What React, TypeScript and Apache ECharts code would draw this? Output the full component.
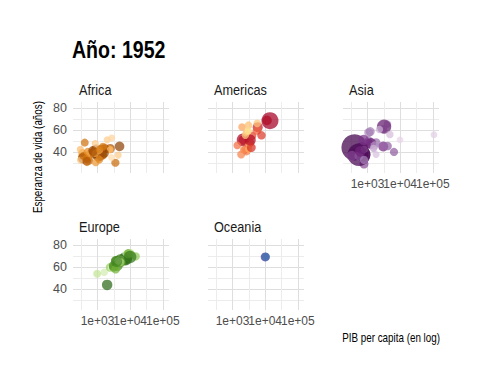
import React, { useEffect, useRef } from 'react';
import * as echarts from 'echarts';

// [country, gdpPercap (US$), lifeExp (years), population (millions)] — year 1952
type Row = [string, number, number, number];

const africa: Row[] = [
  ['Algeria', 2449.0, 43.08, 9.28], ['Angola', 3520.6, 30.02, 4.23], ['Benin', 1062.8, 38.22, 1.74],
  ['Botswana', 851.2, 47.62, 0.44], ['Burkina Faso', 543.3, 31.98, 4.47], ['Burundi', 339.3, 39.03, 2.45],
  ['Cameroon', 1172.7, 38.52, 5.01], ['Central African Republic', 1071.3, 35.46, 1.29], ['Chad', 1178.7, 38.09, 2.68],
  ['Comoros', 1103.0, 40.72, 0.15], ['Congo, Dem. Rep.', 780.5, 39.14, 14.1], ['Congo, Rep.', 2125.6, 42.11, 0.85],
  ["Cote d'Ivoire", 1388.6, 40.48, 2.98], ['Djibouti', 2669.5, 34.81, 0.06], ['Egypt', 1418.8, 41.89, 22.22],
  ['Equatorial Guinea', 375.6, 34.48, 0.22], ['Eritrea', 328.9, 35.93, 1.44], ['Ethiopia', 362.1, 34.08, 20.86],
  ['Gabon', 4293.5, 37.0, 0.42], ['Gambia', 485.2, 30.0, 0.28], ['Ghana', 911.3, 43.15, 5.58],
  ['Guinea', 510.2, 33.61, 2.66], ['Guinea-Bissau', 299.9, 32.5, 0.58], ['Kenya', 853.5, 42.27, 6.46],
  ['Lesotho', 298.8, 42.14, 0.75], ['Liberia', 575.6, 38.48, 0.86], ['Libya', 2387.5, 42.72, 1.02],
  ['Madagascar', 1443.0, 36.68, 4.76], ['Malawi', 369.2, 36.26, 2.92], ['Mali', 452.3, 33.69, 3.84],
  ['Mauritania', 743.1, 40.54, 1.02], ['Mauritius', 1968.0, 50.99, 0.52], ['Morocco', 1688.2, 42.87, 9.94],
  ['Mozambique', 468.5, 31.29, 6.45], ['Namibia', 2423.8, 41.73, 0.49], ['Niger', 761.9, 37.44, 3.38],
  ['Nigeria', 1077.3, 36.32, 33.12], ['Reunion', 2718.9, 52.72, 0.26], ['Rwanda', 493.3, 40.0, 2.53],
  ['Sao Tome and Principe', 879.6, 46.47, 0.06], ['Senegal', 1450.4, 37.28, 2.76], ['Sierra Leone', 879.8, 30.33, 2.14],
  ['Somalia', 1135.7, 32.98, 2.53], ['South Africa', 4725.3, 45.01, 14.26], ['Sudan', 1616.0, 38.64, 8.5],
  ['Swaziland', 1148.4, 41.41, 0.29], ['Tanzania', 716.7, 41.22, 8.32], ['Togo', 859.8, 38.6, 1.22],
  ['Tunisia', 1468.5, 44.6, 3.65], ['Uganda', 734.8, 39.98, 5.82], ['Zambia', 1147.4, 42.04, 2.67],
  ['Zimbabwe', 406.9, 48.45, 3.08],
];

const americas: Row[] = [
  ['Argentina', 5911.3, 62.49, 17.88], ['Bolivia', 2677.3, 40.41, 2.88], ['Brazil', 2108.9, 50.92, 56.6],
  ['Canada', 11367.2, 68.75, 14.79], ['Chile', 3940.0, 54.75, 6.38], ['Colombia', 2144.1, 50.64, 12.35],
  ['Costa Rica', 2627.0, 57.21, 0.93], ['Cuba', 5586.5, 59.42, 6.01], ['Dominican Republic', 1397.7, 45.93, 2.49],
  ['Ecuador', 3522.1, 48.36, 3.55], ['El Salvador', 3048.3, 45.26, 2.04], ['Guatemala', 2428.2, 42.02, 3.15],
  ['Haiti', 1840.4, 37.58, 3.2], ['Honduras', 2194.9, 41.91, 1.52], ['Jamaica', 2898.5, 58.53, 1.43],
  ['Mexico', 3478.1, 50.79, 30.14], ['Nicaragua', 3112.4, 42.31, 1.17], ['Panama', 2480.4, 55.19, 0.94],
  ['Paraguay', 1952.3, 62.65, 1.56], ['Peru', 3758.5, 43.9, 8.03], ['Puerto Rico', 3082.0, 64.28, 2.23],
  ['Trinidad and Tobago', 3023.3, 59.1, 0.66], ['United States', 13990.5, 68.44, 157.55],
  ['Uruguay', 5716.8, 66.07, 2.25], ['Venezuela', 7689.8, 55.09, 5.44],
];

const asia: Row[] = [
  ['Afghanistan', 779.4, 28.8, 8.43], ['Bahrain', 9867.1, 50.94, 0.12], ['Bangladesh', 684.2, 37.48, 46.89],
  ['Cambodia', 368.5, 39.42, 4.69], ['China', 400.4, 44.0, 556.26], ['Hong Kong, China', 3054.4, 60.96, 2.13],
  ['India', 546.6, 37.37, 372.0], ['Indonesia', 749.7, 37.47, 82.05], ['Iran', 3035.3, 44.87, 17.27],
  ['Iraq', 4129.8, 45.32, 5.44], ['Israel', 4086.5, 65.39, 1.62], ['Japan', 3217.0, 63.03, 86.46],
  ['Jordan', 1546.9, 43.16, 0.61], ['Korea, Dem. Rep.', 1088.3, 50.06, 8.87], ['Korea, Rep.', 1030.6, 47.45, 20.95],
  ['Kuwait', 108382.4, 55.57, 0.16], ['Lebanon', 4834.8, 55.93, 1.44], ['Malaysia', 1831.1, 48.46, 6.75],
  ['Mongolia', 786.6, 42.24, 0.8], ['Myanmar', 331.0, 36.32, 20.09], ['Nepal', 545.9, 36.16, 9.18],
  ['Oman', 1828.2, 37.58, 0.51], ['Pakistan', 684.6, 43.44, 41.35], ['Philippines', 1272.9, 47.75, 22.44],
  ['Saudi Arabia', 6459.6, 39.88, 4.01], ['Singapore', 2315.1, 60.4, 1.13], ['Sri Lanka', 1083.5, 57.59, 7.98],
  ['Syria', 1643.5, 45.88, 3.66], ['Taiwan', 1206.9, 58.5, 8.55], ['Thailand', 757.8, 50.85, 21.29],
  ['Vietnam', 605.1, 40.41, 26.25], ['West Bank and Gaza', 1515.6, 43.16, 1.03], ['Yemen, Rep.', 781.7, 32.55, 4.96],
];

const europe: Row[] = [
  ['Albania', 1601.1, 55.23, 1.28], ['Austria', 6137.1, 66.8, 6.93], ['Belgium', 8343.1, 68.0, 8.73],
  ['Bosnia and Herzegovina', 973.5, 53.82, 2.79], ['Bulgaria', 2444.3, 59.6, 7.27], ['Croatia', 3119.2, 61.21, 3.88],
  ['Czech Republic', 6876.1, 66.87, 9.13], ['Denmark', 9692.4, 70.78, 4.33], ['Finland', 6424.5, 66.55, 4.09],
  ['France', 7029.8, 67.41, 42.46], ['Germany', 7144.1, 67.5, 69.15], ['Greece', 3530.7, 65.86, 7.73],
  ['Hungary', 5263.7, 64.03, 9.5], ['Iceland', 7267.7, 72.49, 0.15], ['Ireland', 5210.3, 66.91, 2.95],
  ['Italy', 4931.4, 65.94, 47.67], ['Montenegro', 2647.6, 59.16, 0.41], ['Netherlands', 8941.6, 72.13, 10.38],
  ['Norway', 10095.4, 72.67, 3.33], ['Poland', 4029.3, 61.31, 25.73], ['Portugal', 3068.3, 59.82, 8.53],
  ['Romania', 3144.6, 61.05, 16.63], ['Serbia', 3581.5, 58.0, 6.86], ['Slovak Republic', 5074.7, 64.36, 3.56],
  ['Slovenia', 4215.0, 65.57, 1.49], ['Spain', 3834.0, 64.94, 28.55], ['Sweden', 8527.8, 71.86, 7.12],
  ['Switzerland', 14734.2, 69.62, 4.82], ['Turkey', 1969.1, 43.59, 22.24], ['United Kingdom', 9979.5, 69.18, 50.43],
];

const oceania: Row[] = [
  ['Australia', 10039.6, 69.12, 8.69], ['New Zealand', 10556.6, 69.39, 1.99],
];

// country colour order (darkest first), as in the gapminder country palette
const africaColorOrder = ['Nigeria', 'Egypt', 'Ethiopia', 'Congo, Dem. Rep.', 'South Africa', 'Sudan', 'Tanzania', 'Kenya', 'Morocco', 'Algeria', 'Uganda', 'Ghana', 'Mozambique', 'Madagascar', "Cote d'Ivoire", 'Cameroon', 'Burkina Faso', 'Malawi', 'Niger', 'Angola', 'Senegal', 'Zimbabwe', 'Mali', 'Zambia', 'Tunisia', 'Chad', 'Guinea', 'Somalia', 'Rwanda', 'Burundi', 'Benin', 'Sierra Leone', 'Libya', 'Togo', 'Eritrea', 'Central African Republic', 'Congo, Rep.', 'Mauritania', 'Liberia', 'Namibia', 'Lesotho', 'Gambia', 'Botswana', 'Guinea-Bissau', 'Gabon', 'Mauritius', 'Swaziland', 'Reunion', 'Comoros', 'Equatorial Guinea', 'Djibouti', 'Sao Tome and Principe'];
const americasColorOrder = ['United States', 'Brazil', 'Mexico', 'Colombia', 'Argentina', 'Canada', 'Peru', 'Venezuela', 'Chile', 'Ecuador', 'Guatemala', 'Cuba', 'Dominican Republic', 'Bolivia', 'Haiti', 'Honduras', 'El Salvador', 'Paraguay', 'Nicaragua', 'Costa Rica', 'Puerto Rico', 'Uruguay', 'Panama', 'Jamaica', 'Trinidad and Tobago'];
const asiaColorOrder = ['China', 'India', 'Indonesia', 'Pakistan', 'Bangladesh', 'Japan', 'Philippines', 'Vietnam', 'Iran', 'Thailand', 'Korea, Rep.', 'Myanmar', 'Afghanistan', 'Nepal', 'Saudi Arabia', 'Iraq', 'Malaysia', 'Korea, Dem. Rep.', 'Taiwan', 'Yemen, Rep.', 'Sri Lanka', 'Syria', 'Cambodia', 'Hong Kong, China', 'Israel', 'Jordan', 'Singapore', 'West Bank and Gaza', 'Lebanon', 'Oman', 'Mongolia', 'Kuwait', 'Bahrain'];
const europeColorOrder = ['Germany', 'Turkey', 'France', 'United Kingdom', 'Italy', 'Spain', 'Poland', 'Romania', 'Netherlands', 'Greece', 'Portugal', 'Belgium', 'Czech Republic', 'Serbia', 'Hungary', 'Sweden', 'Austria', 'Switzerland', 'Bulgaria', 'Denmark', 'Slovak Republic', 'Finland', 'Norway', 'Bosnia and Herzegovina', 'Croatia', 'Ireland', 'Albania', 'Slovenia', 'Montenegro', 'Iceland'];
const oceaniaColorOrder = ['Australia', 'New Zealand'];

const continentNames = ['Africa', 'Americas', 'Asia', 'Europe', 'Oceania'];
const xGridValues = [2.5, 3, 3.5, 4, 4.5, 5]; // log10 of GDP per capita
const xLabelValuesOuter = [3, 5];
const xLabelValuesMiddle = [4];
const yGridValues = [30, 40, 50, 60, 70, 80];
const yLabelValues = [40, 60, 80];
const titleText = 'Año: 1952';
const yTitle = 'Esperanza de vida (años)';
const xTitle = 'PIB per capita (en log)';

const FONT = "'Liberation Sans', Arial, sans-serif";
const NARROW = 0.82;
const XMIN = 2.2487, XMAX = 5.1888, YMIN = 20.65, YMAX = 85.55;

const ramps: Record<string, string[]> = {
  Africa: ['#7F3B08', '#B35806', '#E08214', '#FDB863', '#FEE0B6'],
  Americas: ['#A50026', '#D73027', '#F46D43', '#FDAE61', '#FEE090'],
  Asia: ['#40004B', '#762A83', '#9970AB', '#C2A5CF', '#E7D4E8'],
  Europe: ['#276419', '#4D9221', '#7FBC41', '#B8E186', '#E6F5D0'],
  Oceania: ['#313695', '#4575B4'],
};

function hexToRgb(h: string) {
  return [parseInt(h.slice(1, 3), 16), parseInt(h.slice(3, 5), 16), parseInt(h.slice(5, 7), 16)];
}
function rampColor(ramp: string[], t: number) {
  const pos = Math.max(0, Math.min(1, t)) * (ramp.length - 1);
  const i = Math.min(Math.floor(pos), ramp.length - 2);
  const f = pos - i;
  const a = hexToRgb(ramp[i]), b = hexToRgb(ramp[i + 1]);
  const c = a.map((v, k) => Math.round(v + (b[k] - v) * f));
  return `rgb(${c[0]},${c[1]},${c[2]})`;
}

const panelRows = [africa, americas, asia, europe, oceania];
const colorOrders = [africaColorOrder, americasColorOrder, asiaColorOrder, europeColorOrder, oceaniaColorOrder];
const layout = [
  { left: 73, top: 102, showX: false, showY: true },
  { left: 208, top: 102, showX: false, showY: false },
  { left: 343, top: 102, showX: true, showY: false },
  { left: 73, top: 239, showX: true, showY: true },
  { left: 208, top: 239, showX: true, showY: false },
];
const PW = 96, PH = 71;

export default function App() {
  const ref = useRef<HTMLDivElement>(null);
  useEffect(() => {
    if (!ref.current) return;
    const chart = echarts.init(ref.current, null, { renderer: 'svg' });

    const labelStyle = { fontFamily: FONT, fontSize: 12, color: '#4d4d4d' };
    const grids = layout.map((l) => ({ left: l.left, top: l.top, width: PW, height: PH, outerBoundsMode: 'none' }));
    const xAxes: any[] = layout.map((l, i) => ({
      gridIndex: i, type: 'value', min: XMIN, max: XMAX, position: 'bottom',
      axisLine: { show: false },
      axisTick: { show: false, customValues: xGridValues },
      axisLabel: {
        show: l.showX, customValues: xLabelValuesOuter, margin: 5,
        hideOverlap: false, showMinLabel: true, showMaxLabel: true,
        formatter: (v: number) => '1e+0' + Math.round(v), ...labelStyle,
      },
      splitLine: { show: true, lineStyle: { color: ['#ececec', '#dedede'], width: 1 } },
    }));
    // middle tick label on its own axis so that it is not dropped as overlapping
    layout.forEach((l, i) => {
      xAxes.push({
        gridIndex: i, type: 'value', min: XMIN, max: XMAX, position: 'bottom', offset: 0,
        axisLine: { show: false }, axisTick: { show: false, customValues: xLabelValuesMiddle },
        splitLine: { show: false },
        axisLabel: {
          show: l.showX, customValues: xLabelValuesMiddle, margin: 5,
          formatter: (v: number) => '1e+0' + Math.round(v), ...labelStyle,
        },
      });
    });
    const yAxes = layout.map((l, i) => ({
      gridIndex: i, type: 'value', min: YMIN, max: YMAX,
      axisLine: { show: false },
      axisTick: { show: false, customValues: yGridValues },
      axisLabel: {
        show: l.showY, customValues: yLabelValues, margin: 6,
        hideOverlap: false, showMinLabel: true, showMaxLabel: true,
        fontFamily: FONT, fontSize: 12.5, color: '#4d4d4d',
      },
      splitLine: { show: true, lineStyle: { color: ['#ececec', '#dedede'], width: 1 } },
    }));

    const series = panelRows.map((rows, i) => {
      const cont = continentNames[i];
      const order = colorOrders[i];
      const n = order.length;
      return {
        type: 'scatter', xAxisIndex: i, yAxisIndex: i, clip: true,
        symbolSize: (v: number[]) => 6.5 + 0.84 * Math.sqrt(v[2]),
        data: rows.map((r) => ({
          name: r[0],
          value: [Math.log10(r[1]), r[2], r[3]],
          itemStyle: {
            color: rampColor(ramps[cont], n > 1 ? order.indexOf(r[0]) / (n - 1) : 0),
            opacity: 0.72,
          },
        })),
      };
    });

    const stripText = layout.map((l, i) => ({
      type: 'text', x: l.left + 6, y: l.top - 12, scaleX: NARROW,
      style: { text: continentNames[i], fontFamily: FONT, fontSize: 15.5, fill: '#1a1a1a', verticalAlign: 'middle' },
    }));

    chart.setOption({
      animation: false,
      backgroundColor: '#ffffff',
      grid: grids,
      xAxis: xAxes,
      yAxis: yAxes,
      series,
      graphic: [
        { type: 'text', x: 72, y: 50, scaleX: 0.85, style: { text: titleText, fontFamily: FONT, fontWeight: 'bold', fontSize: 23, fill: '#000', verticalAlign: 'middle' } },
        ...stripText,
        { type: 'text', x: 38, y: 101, rotation: Math.PI / 2, scaleX: NARROW, style: { text: yTitle, fontFamily: FONT, fontSize: 12, fill: '#000', align: 'right', verticalAlign: 'middle' } },
        { type: 'text', x: 440, y: 338, scaleX: NARROW, style: { text: xTitle, fontFamily: FONT, fontSize: 12, fill: '#000', align: 'right', verticalAlign: 'middle' } },
      ],
    });
    return () => chart.dispose();
  }, []);
  return <div ref={ref} style={{ position: 'absolute', left: 0, top: 0, width: 480, height: 384 }} />;
}
